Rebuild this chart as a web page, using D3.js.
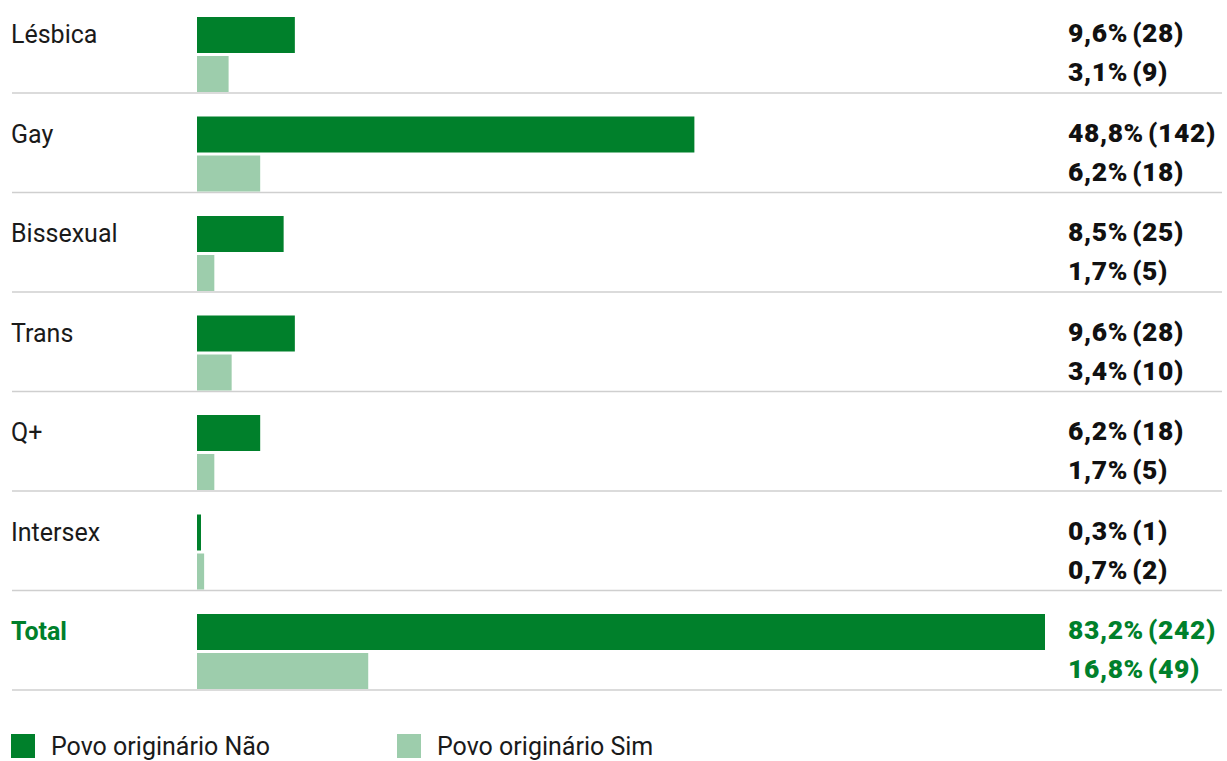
<!DOCTYPE html>
<html>
<head>
<meta charset="utf-8">
<script src="https://cdn.jsdelivr.net/npm/d3@7"></script>
<style>
  body { margin: 0; background: #fff; }
  .label { font-family: Roboto, sans-serif; font-size: 25px; fill: #1a1a1a; }
  .value { font-family: Roboto, sans-serif; font-size: 26.5px; font-weight: 900; fill: #111; letter-spacing: 0.6px; word-spacing: -3px; }
  .legend { font-family: Roboto, sans-serif; font-size: 25px; fill: #1a1a1a; }
</style>
</head>
<body>
<svg id="chart"></svg>
<script>
// categories and values (percent, count)
var categories = ["Lésbica", "Gay", "Bissexual", "Trans", "Q+", "Intersex", "Total"];
var naoPct = [9.6, 48.8, 8.5, 9.6, 6.2, 0.3, 83.2];
var naoN   = [28, 142, 25, 28, 18, 1, 242];
var simPct = [3.1, 6.2, 1.7, 3.4, 1.7, 0.7, 16.8];
var simN   = [9, 18, 5, 10, 5, 2, 49];
var seriesNames = ["Povo originário Não", "Povo originário Sim"];

var colors = ["#00802b", "#9dcdac"];
var green = "#00802b";

var w = 1227, h = 761;
var barX = 197, barMaxX = 1045, valueX = 1068;
var barH = 36, barGap = 3;

var svg = d3.select("#chart")
    .attr("width", w)
    .attr("height", h);

var rows = categories.map(function(c, i) {
  return {
    cat: c,
    total: c === "Total",
    vals: [
      {pct: naoPct[i], n: naoN[i], s: 0},
      {pct: simPct[i], n: simN[i], s: 1}
    ]
  };
});

var xScale = d3.scaleLinear()
    .domain([0, d3.max(naoPct)])
    .range([barX, barMaxX]);

var yScale = d3.scaleBand()
    .domain(categories)
    .range([17, 17 + 99.5 * categories.length])
    .paddingInner(0)
    .paddingOuter(0)
    .align(0);

var fmt = function(v) { return d3.format(".1f")(v).replace(".", ","); };

var g = svg.selectAll("g.row")
    .data(rows)
    .enter()
    .append("g")
    .attr("class", "row")
    .attr("transform", function(d) { return "translate(0," + yScale(d.cat) + ")"; });

// divider lines
g.append("line")
    .attr("x1", 12)
    .attr("x2", 1222)
    .attr("y1", barH * 2 + barGap + 1)
    .attr("y2", barH * 2 + barGap + 1)
    .style("stroke", "#cfcfcf")
    .style("stroke-width", 1.6);

// category labels
g.append("text")
    .attr("class", "label")
    .attr("x", 11)
    .attr("y", barH / 2 + 8)
    .style("font-weight", function(d) { return d.total ? 700 : 400; })
    .style("fill", function(d) { return d.total ? green : null; })
    .text(function(d) { return d.cat; });

// bars
g.selectAll("rect")
    .data(function(d) { return d.vals; })
    .enter()
    .append("rect")
    .attr("x", barX)
    .attr("y", function(d) { return d.s * (barH + barGap); })
    .attr("width", function(d) { return Math.max(xScale(d.pct) - barX, 4); })
    .attr("height", barH)
    .style("fill", function(d) { return colors[d.s]; });

// values
g.each(function(r) {
  d3.select(this).selectAll("text.value")
    .data(r.vals)
    .enter()
    .append("text")
    .attr("class", "value")
    .attr("x", valueX)
    .attr("y", function(d) { return d.s * (barH + barGap) + barH / 2 + 7; })
    .style("fill", r.total ? green : null)
    .text(function(d) { return fmt(d.pct) + "% (" + d.n + ")"; });
});

// legend
var legend = svg.selectAll("g.legend")
    .data(seriesNames)
    .enter()
    .append("g")
    .attr("transform", function(d, i) { return "translate(" + (i === 0 ? 11 : 397) + ",734)"; });

legend.append("rect")
    .attr("width", 24)
    .attr("height", 24)
    .style("fill", function(d, i) { return colors[i]; });

legend.append("text")
    .attr("class", "legend")
    .attr("x", 40)
    .attr("y", 21)
    .text(function(d) { return d; });
</script>
</body>
</html>
